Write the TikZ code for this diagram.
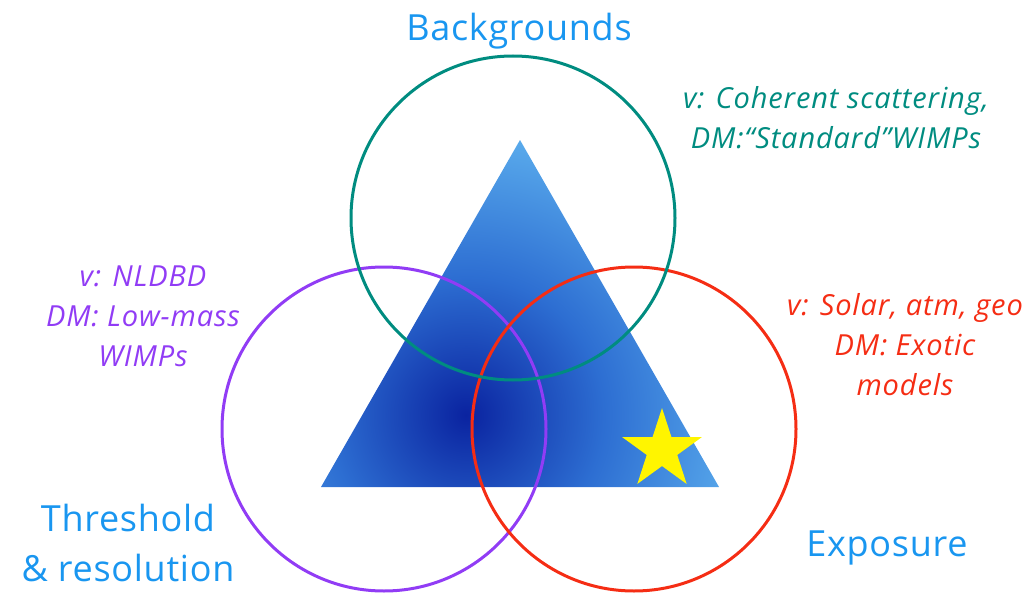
\documentclass[tikz,border=0pt]{standalone}
\usepackage{fontspec}
\setmainfont{Open Sans}
\usepackage{xcolor}
\usetikzlibrary{shapes.geometric}

\definecolor{tealring}{RGB}{0,140,128}
\definecolor{violetring}{RGB}{145,60,245}
\definecolor{redring}{RGB}{245,45,20}
\definecolor{skyblue}{RGB}{25,150,240}
\definecolor{deepblue}{RGB}{10,35,160}
\definecolor{midblue}{RGB}{45,110,210}
\definecolor{paleblue}{RGB}{105,192,245}
\definecolor{staryellow}{RGB}{255,245,0}

\pgfdeclareradialshading{pyramid}{\pgfpoint{0bp}{0bp}}{%
  color(0bp)=(deepblue); color(10bp)=(midblue); color(24bp)=(paleblue); color(50bp)=(paleblue)}

\begin{document}
\begin{tikzpicture}[
  x=1pt, y=-1pt,
  ring/.style={line width=3pt},
  axislabel/.style={text=skyblue, font=\fontsize{36}{50}\selectfont\addfontfeature{LetterSpace=2}, align=center},
  note/.style={font=\fontsize{29}{40}\selectfont\itshape\addfontfeature{LetterSpace=3}, align=center},
]
\useasboundingbox (0,0) rectangle (1029,594);
% shaded triangle
\coordinate (apex) at (520,140);
\coordinate (left) at (321,487);
\coordinate (right) at (719,487);
\begin{scope}
\clip (apex) -- (left) -- (right) -- cycle;
\shade[shading=pyramid] (466,415) circle (345);
\end{scope}
% the three rings
\coordinate (bkg) at (513,218);
\coordinate (thr) at (384,429);
\coordinate (exp) at (634,429);
\draw[ring, violetring] (thr) circle (162);
\draw[ring, redring] (exp) circle (162);
\draw[ring, tealring] (bkg) circle (162);
% star
\node[star, star points=5, star point ratio=2.618, fill=staryellow, minimum size=84, inner sep=0pt] (goal) at (662,450) {};
% axis labels
\node[axislabel] (bkglabel) at (519,31) {Backgrounds};
\node[axislabel] (thrlabel) at (128,543) {Threshold\\\& resolution};
\node[axislabel] (explabel) at (887,548) {Exposure};
% physics notes
\node[note, text=tealring] (bkgnote) at (836,118) {v: Coherent scattering,\\DM:“Standard”WIMPs};
\node[note, text=violetring] (thrnote) at (143,316) {v: NLDBD\\DM: Low-mass\\WIMPs};
\node[note, text=redring] (expnote) at (905,345) {v: Solar, atm, geo\\DM: Exotic\\models};
\end{tikzpicture}
\end{document}
